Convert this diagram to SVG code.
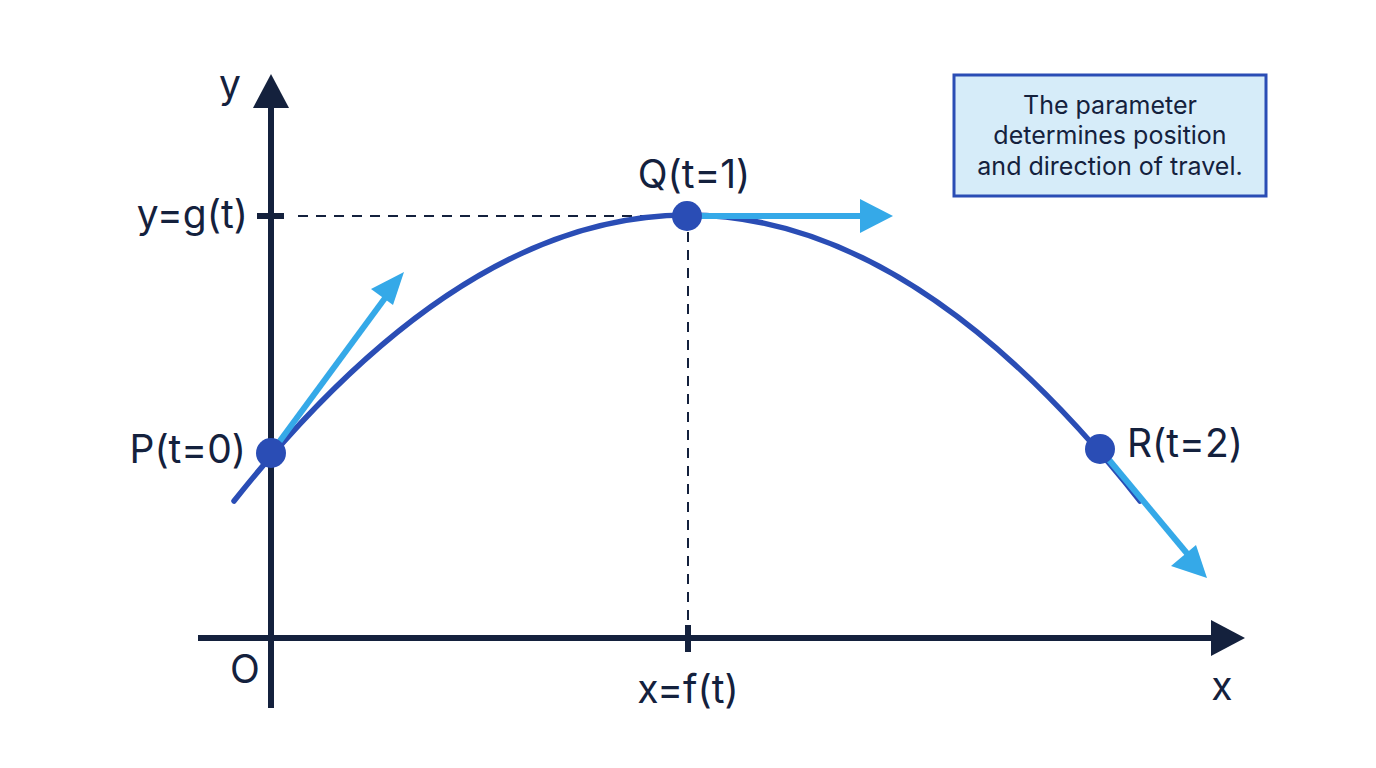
<svg xmlns="http://www.w3.org/2000/svg" width="1376" height="768" viewBox="0 0 1376 768">
<defs>
<style>
.t{font-family:Inter,"Noto Sans","Liberation Sans",sans-serif;fill:#14213d}
.lbl{font-size:39px}
.note{font-size:25px;text-anchor:middle}
.axis{stroke:#14213d;stroke-width:6;fill:none}
.dash{stroke:#14213d;stroke-width:2;stroke-dasharray:10 8;fill:none}
.curve{stroke:#2a4db5;stroke-width:5.5;fill:none;stroke-linecap:round}
.tan{stroke:#35a9e8;stroke-width:6;fill:none}
.pt{fill:#2a4db5}
</style>
</defs>
<rect width="1376" height="768" fill="#ffffff"/>
<g id="axes">
<line class="axis" x1="271" y1="708" x2="271" y2="100"/>
<polygon points="271,74 253,108 289,108" fill="#14213d"/>
<line class="axis" x1="198" y1="638" x2="1215" y2="638"/>
<polygon points="1245,638 1211,620 1211,656" fill="#14213d"/>
<line class="axis" x1="257" y1="216" x2="284" y2="216"/>
<line class="axis" x1="688" y1="625" x2="688" y2="652"/>
</g>
<g id="guides">
<line class="dash" x1="298" y1="216" x2="676" y2="216"/>
<line class="dash" x1="688" y1="232" x2="688" y2="622"/>
</g>
<g id="curve">
<path class="curve" d="M234,501 Q688,-71 1140,501"/>
</g>
<g id="connectors">
<line class="tan" x1="271" y1="453" x2="388" y2="294"/>
<polygon points="404,272 371,289 393,305" fill="#35a9e8"/>
<line class="tan" x1="687" y1="216" x2="865" y2="216"/>
<polygon points="893,216 860,199 860,233" fill="#35a9e8"/>
<line class="tan" x1="1100" y1="449" x2="1190" y2="557"/>
<polygon points="1207,578 1171,566 1196,545" fill="#35a9e8"/>
</g>
<g id="P"><circle class="pt" cx="271" cy="453" r="15"/><text class="t lbl" x="246" y="463" text-anchor="end">P(t=0)</text></g>
<g id="Q"><circle class="pt" cx="687" cy="216" r="15"/><text class="t lbl" x="694" y="188" text-anchor="middle">Q(t=1)</text></g>
<g id="R"><circle class="pt" cx="1100" cy="449" r="15"/><text class="t lbl" x="1127" y="457">R(t=2)</text></g>
<g id="labels">
<text class="t lbl" x="230" y="98" text-anchor="middle">y</text>
<text class="t lbl" x="248" y="228" text-anchor="end">y=g(t)</text>
<text class="t lbl" x="245" y="683" text-anchor="middle">O</text>
<text class="t lbl" x="688" y="703" text-anchor="middle">x=f(t)</text>
<text class="t lbl" x="1222" y="700" text-anchor="middle">x</text>
</g>
<g id="note">
<rect x="954" y="75" width="312" height="121" fill="#d6ecf9" stroke="#2a4db5" stroke-width="3"/>
<text class="t note" x="1110" y="114">The parameter</text>
<text class="t note" x="1110" y="144">determines position</text>
<text class="t note" x="1110" y="175">and direction of travel.</text>
</g>
</svg>
